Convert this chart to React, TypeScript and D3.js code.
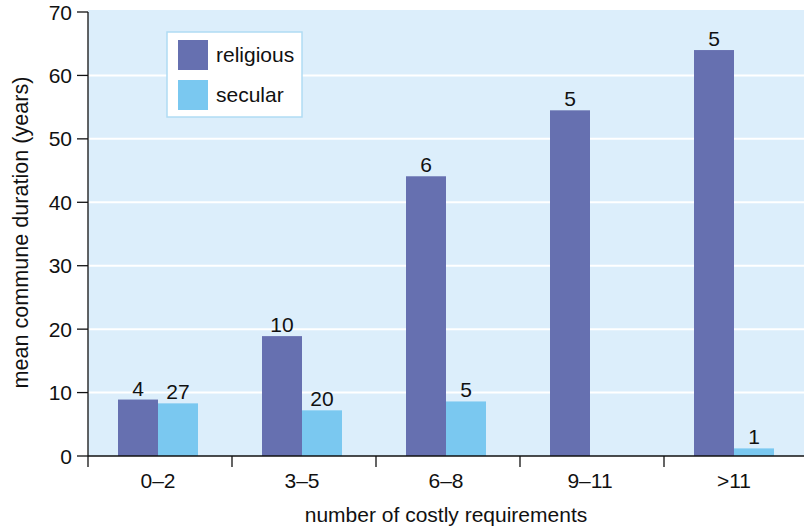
import React from 'react';
import * as d3 from 'd3';

const categories = ['0–2', '3–5', '6–8', '9–11', '>11'];
const series = ['religious', 'secular'];
const religious = [8.9, 18.9, 44.1, 54.5, 64.0];
const secular = [8.3, 7.2, 8.6, 0, 1.2];
const religiousN = ['4', '10', '6', '5', '5'];
const secularN = ['27', '20', '5', '', '1'];
const yTicks = [0, 10, 20, 30, 40, 50, 60, 70];
const colors = ['#6670b0', '#7ac8f0'];

const W = 804;
const H = 529;
const left = 88;
const bottom = 456;
const top = 12;
const font = 'Liberation Sans, Arial, Helvetica, sans-serif';

const App = () => {
  const x = d3.scaleBand().domain(categories).range([left, left + 144 * 5]).padding(0);
  const y = d3.scaleLinear().domain([0, 70]).range([bottom, top]);
  const groupW = 80;
  const x1 = d3.scaleBand().domain(series).range([0, groupW]);
  const off = (x.bandwidth() - groupW) / 2 - 2;
  const values = [religious, secular];
  const counts = [religiousN, secularN];

  return (
    <svg width={W} height={H} style={{ position: 'absolute', left: 0, top: 0 }} fontFamily={font}>
      <rect x={left} y={10} width={W - left} height={bottom - 10} fill="#dceefb" />
      {yTicks.slice(1, -1).map(t => (
        <line key={t} x1={left} x2={W} y1={y(t)} y2={y(t)} stroke="#fff" strokeWidth={2} />
      ))}
      {series.map((s, si) => (
        <g key={s} fill={colors[si]}>
          {categories.map((c, i) => values[si][i] > 0 && (
            <rect key={c} x={(x(c) as number) + off + (x1(s) as number)} y={y(values[si][i])}
              width={x1.bandwidth()} height={y(0) - y(values[si][i])} />
          ))}
        </g>
      ))}
      {series.map((s, si) => (
        <g key={s} fontSize={21} textAnchor="middle" fill="#111">
          {categories.map((c, i) => counts[si][i] && (
            <text key={c} x={(x(c) as number) + off + (x1(s) as number) + x1.bandwidth() / 2}
              y={y(values[si][i]) - 4}>{counts[si][i]}</text>
          ))}
        </g>
      ))}
      {/* legend */}
      <rect x={167} y={32} width={135} height={85} fill="#fff" stroke="#b0dcf4" strokeWidth={1.5} />
      {series.map((s, si) => (
        <g key={s}>
          <rect x={178} y={40 + si * 40} width={30} height={30} fill={colors[si]} />
          <text x={216} y={62 + si * 40} fontSize={21} fill="#111">{s}</text>
        </g>
      ))}
      {/* axes */}
      <line x1={left} x2={left} y1={top} y2={bottom} stroke="#111" strokeWidth={1.3} />
      <line x1={left} x2={W} y1={bottom} y2={bottom} stroke="#111" strokeWidth={1.3} />
      {yTicks.map(t => (
        <g key={t}>
          <line x1={left - 11} x2={left} y1={y(t)} y2={y(t)} stroke="#111" strokeWidth={1.3} />
          <text x={left - 16} y={y(t) + 7.5} fontSize={21} textAnchor="end" fill="#111">{t}</text>
        </g>
      ))}
      {categories.map(c => (
        <g key={c}>
          <line x1={x(c)} x2={x(c)} y1={bottom} y2={bottom + 11} stroke="#111" strokeWidth={1.3} />
          <text x={(x(c) as number) + off + groupW / 2} y={488} fontSize={21} textAnchor="middle" fill="#111">{c}</text>
        </g>
      ))}
      <text x={446} y={522} fontSize={21} textAnchor="middle" fill="#111">number of costly requirements</text>
      <text transform={`translate(28,232.5) rotate(-90)`} fontSize={21.6} textAnchor="middle" fill="#111">
        mean commune duration (years)
      </text>
    </svg>
  );
};

export default App;
